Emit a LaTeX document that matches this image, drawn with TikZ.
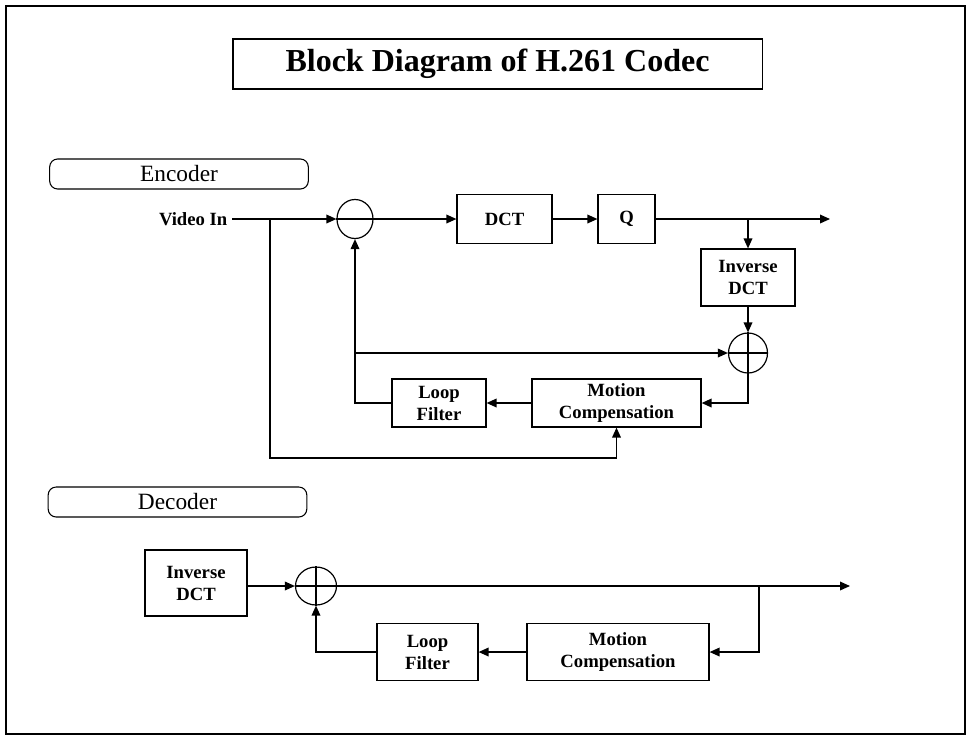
\documentclass[tikz,border=0pt]{standalone}
\usepackage{fontspec}
\setmainfont{Liberation Serif}
\usetikzlibrary{shapes.geometric, arrows.meta}

\begin{document}
\begin{tikzpicture}[x=0.75pt, y=-0.75pt,
    blk/.style={rectangle, draw, line width=0.9pt, inner sep=0pt, align=center,
                font=\fontsize{14}{16.5}\selectfont\bfseries},
    sumc/.style={ellipse, draw, line width=0.9pt, inner sep=0pt},
    tag/.style={rectangle, draw, rounded corners=6pt, line width=0.8pt,
                minimum width=194pt, minimum height=22.5pt,
                font=\fontsize{17.5}{20}\selectfont},
    lbl/.style={font=\fontsize{14}{16.5}\selectfont\bfseries},
    arr/.style={-{Triangle[length=7.5pt, width=6.5pt]}, line width=1pt},
    ln/.style={line width=1pt}
  ]
  \useasboundingbox (0,0) rectangle (969,743);
  \draw[line width=1.6pt] (6,6) rectangle (965,734);

  \node[rectangle, draw, line width=1pt, minimum width=397pt, minimum height=37.5pt,
        font=\fontsize{24}{28}\selectfont\bfseries] (title) at (497.5,64)
        {Block Diagram of H.261 Codec};

  % encoder
  \node[tag] (enc) at (179,174) {Encoder};
  \node[lbl, anchor=east] (vin) at (232,219) {Video In};
  \node[sumc, minimum width=27pt, minimum height=29.25pt] (sub) at (355,219) {};
  \node[blk, minimum width=71.25pt, minimum height=36.75pt] (dct) at (504.5,219) {DCT};
  \node[blk, minimum width=42.75pt, minimum height=36.75pt] (q) at (626.5,219) {Q};
  \node[blk, minimum width=70.5pt, minimum height=42.75pt] (idct1) at (748,277.5)
        {Inverse\\DCT};
  \node[sumc, minimum width=29.25pt, minimum height=30pt] (add1) at (748,353) {};
  \node[blk, minimum width=126.75pt, minimum height=36pt] (mc1) at (616.5,403)
        {Motion\\Compensation};
  \node[blk, minimum width=70.5pt, minimum height=36pt] (lf1) at (439,403)
        {Loop\\Filter};
  \coordinate (vbr)  at (270,219);
  \coordinate (vlow) at (270,458);
  \coordinate (qbr)  at (748,219);
  \coordinate (eout) at (830,219);
  \coordinate (fbr)  at (355,353);

  \draw[arr] (vin.east) -- (sub.west);
  \draw[ln]  (sub.west) -- (sub.east);
  \draw[arr] (sub.east) -- (dct.west);
  \draw[arr] (dct) -- (q);
  \draw[arr] (q.east) -- (eout);
  \draw[arr] (qbr) -- (idct1.north);
  \draw[arr] (idct1) -- (add1);
  \draw[ln]  (add1.north) -- (add1.south);
  \draw[ln]  (add1.west) -- (add1.east);
  \draw[arr] (add1.south) |- (mc1.east);
  \draw[arr] (mc1) -- (lf1);
  \draw[arr] (lf1.west) -| (sub.south);
  \draw[arr] (fbr) -- (add1.west);
  \draw[arr] (vbr) -- (vlow) -| (mc1.south);

  % decoder
  \node[tag] (dec) at (177.5,502) {Decoder};
  \node[blk, minimum width=76.5pt, minimum height=49.5pt] (idct2) at (196,583)
        {Inverse\\DCT};
  \node[sumc, minimum width=30.75pt, minimum height=28.5pt] (add2) at (316,586) {};
  \node[blk, minimum width=136.5pt, minimum height=42.75pt] (mc2) at (618,652)
        {Motion\\Compensation};
  \node[blk, minimum width=75.75pt, minimum height=42.75pt] (lf2) at (427.5,652)
        {Loop\\Filter};
  \coordinate (dbr)  at (759,586);
  \coordinate (dout) at (850,586);

  \draw[arr] (idct2.east |- add2.west) -- (add2.west);
  \draw[ln]  (add2.north) -- (add2.south);
  \draw[ln]  (add2.west) -- (add2.east);
  \draw[arr] (add2.east) -- (dout);
  \draw[arr] (dbr) |- (mc2.east);
  \draw[arr] (mc2) -- (lf2);
  \draw[arr] (lf2.west) -| (add2.south);
\end{tikzpicture}
\end{document}
